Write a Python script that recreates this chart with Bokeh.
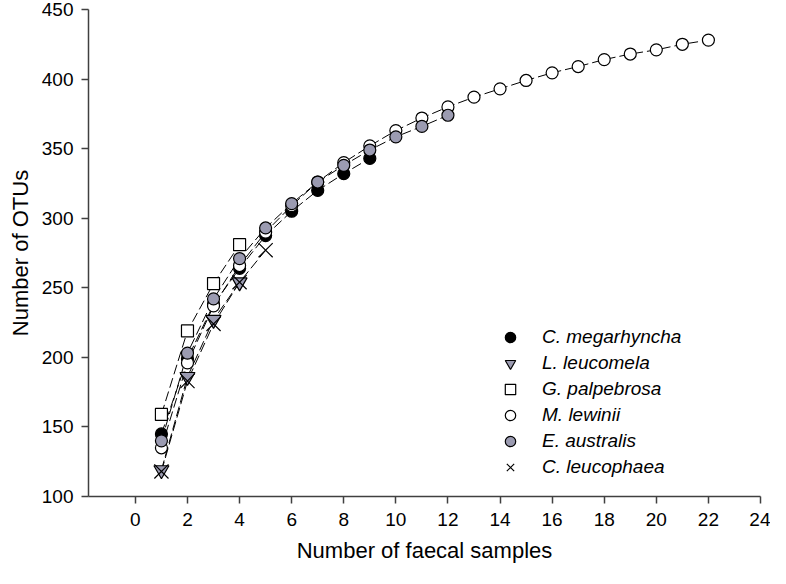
from bokeh.plotting import figure
from bokeh.models import FixedTicker, Legend, LegendItem, Range1d
from bokeh.embed import file_html
from bokeh.resources import INLINE

# ---- data ----
x_meg = [1, 2, 3, 4, 5, 6, 7, 8, 9]
y_meg = [145, 199, 238, 264, 287.5, 305, 320, 332, 343]

x_leu = [1, 2, 3, 4]
y_leu = [119, 186, 227, 254]

x_pal = [1, 2, 3, 4]
y_pal = [159, 219, 253, 281]

x_lew = list(range(1, 23))
y_lew = [135, 196, 237, 266, 290, 309, 326, 340, 352, 363, 372, 380,
         387, 393, 399, 404.5, 409, 414, 418, 421, 425, 428]

x_aus = list(range(1, 13))
y_aus = [140, 203, 242, 271, 293, 310.5, 326, 338, 349, 358.5, 366, 374]

x_cle = [1, 2, 3, 4, 5]
y_cle = [118, 183, 224, 254, 277]

x_ticks = [0, 2, 4, 6, 8, 10, 12, 14, 16, 18, 20, 22, 24]
y_ticks = [100, 150, 200, 250, 300, 350, 400, 450]

FONT = "Liberation Sans"
GRAY = "#9b9bb1"
AX = "#404040"

p = figure(width=770, height=568, output_backend="svg", toolbar_location=None,
           x_range=Range1d(-1.8, 24), y_range=Range1d(100, 450),
           min_border_left=88, min_border_right=10, min_border_top=9,
           min_border_bottom=72)
p.outline_line_color = None
p.xgrid.visible = False
p.ygrid.visible = False
p.background_fill_color = "white"
p.border_fill_color = "white"

for ax, ticks in ((p.xaxis, x_ticks), (p.yaxis, y_ticks)):
    ax.ticker = FixedTicker(ticks=ticks)
    ax.minor_tick_line_color = None
    ax.axis_line_color = AX
    ax.axis_line_width = 1.5
    ax.major_tick_line_color = AX
    ax.major_tick_line_width = 1.5
    ax.major_tick_out = 7
    ax.major_tick_in = 0
    ax.major_label_text_font = FONT
    ax.major_label_text_font_size = "19px"
    ax.major_label_text_color = "black"
    ax.axis_label_text_font = FONT
    ax.axis_label_text_font_size = "22px"
    ax.axis_label_text_font_style = "normal"
    ax.axis_label_text_color = "black"

p.xaxis.axis_label = "Number of faecal samples"
p.yaxis.axis_label = "Number of OTUs"
p.xaxis.major_label_standoff = 9
p.xaxis.axis_label_standoff = 9
p.yaxis.major_label_standoff = 8
p.yaxis.axis_label_standoff = 6

DASH = "10 4"
series = [
    ("C. megarhyncha", x_meg, y_meg, "circle", "black", 12),
    ("L. leucomela", x_leu, y_leu, "inverted_triangle", GRAY, 15),
    ("G. palpebrosa", x_pal, y_pal, "square", "white", 12),
    ("M. lewinii", x_lew, y_lew, "circle", "white", 12),
    ("E. australis", x_aus, y_aus, "circle", GRAY, 12),
    ("C. leucophaea", x_cle, y_cle, "x", "black", 20),
]

items = []
for name, xs, ys, marker, fill, size in series:
    p.line(xs, ys, line_color="black", line_width=1, line_dash=DASH)
for name, xs, ys, marker, fill, size in series:
    r = p.scatter(xs, ys, marker=marker, size=size, fill_color=fill,
                  line_color="black", line_width=1.2)
    items.append(LegendItem(label=name, renderers=[r]))

legend = Legend(items=items, location=(407, 16), orientation="vertical",
                border_line_alpha=0, background_fill_alpha=0,
                label_text_font=FONT, label_text_font_size="19px",
                label_text_font_style="italic", label_text_color="black",
                glyph_width=30, glyph_height=26, label_height=24,
                label_standoff=17, spacing=0, padding=0, margin=0)
p.add_layout(legend, "center")

open("out.html", "w").write(file_html(p, INLINE))
